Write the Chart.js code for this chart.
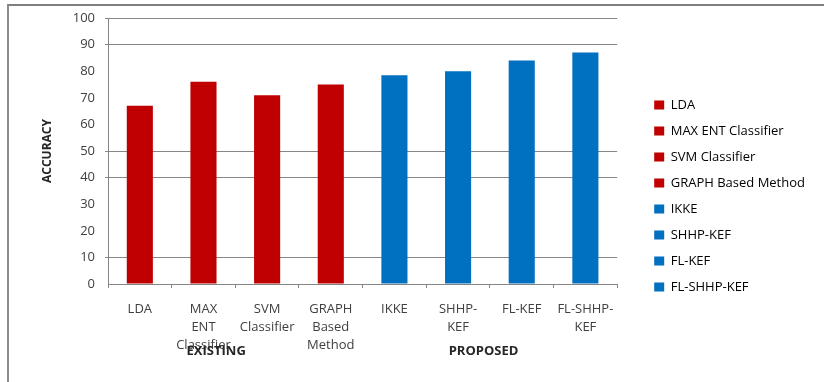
<!DOCTYPE html>
<html>
<head>
<meta charset="utf-8">
<script src="https://cdn.jsdelivr.net/npm/chart.js@4.4.1/dist/chart.umd.min.js"></script>
<style>
  html, body { margin: 0; padding: 0; background: #ffffff; }
  #wrap { position: relative; width: 824px; height: 382px; overflow: hidden; }
  #edge {
    position: absolute; left: 7px; top: 4px; width: 900px; height: 500px;
    border-top: 2px solid #7f7f7f; border-left: 2px solid #8c8c8c;
    pointer-events: none;
  }
  canvas { position: absolute; left: 0; top: 0; }
</style>
</head>
<body>
<div id="wrap">
  <canvas id="chart" width="824" height="382"></canvas>
  <div id="edge"></div>
</div>
<script>
// Methods compared, tick labels (wrapped) and accuracy in percent
const methods = ["LDA", "MAX ENT Classifier", "SVM Classifier", "GRAPH Based Method",
                 "IKKE", "SHHP-KEF", "FL-KEF", "FL-SHHP-KEF"];
const tickLabels = [["LDA"], ["MAX", "ENT", "Classifier"], ["SVM", "Classifier"],
                    ["GRAPH", "Based", "Method"], ["IKKE"], ["SHHP-", "KEF"],
                    ["FL-KEF"], ["FL-SHHP-", "KEF"]];
const accuracy = [67, 76, 71, 75, 78.5, 80, 84, 87];
const groups = ["EXISTING", "EXISTING", "EXISTING", "EXISTING",
                "PROPOSED", "PROPOSED", "PROPOSED", "PROPOSED"];
const yTicks = [0, 10, 20, 30, 40, 50, 60, 70, 80, 90, 100];
const gridLevels = [10, 40, 50, 90, 100];

const RED = "#c00000";
const BLUE = "#0070c0";
const barColors = groups.map(g => g === "EXISTING" ? RED : BLUE);
const FONT = "'Open Sans', 'Liberation Sans', sans-serif";
const TEXT = "#404040";
const LINE = "#868686";

// Group captions under the category labels (offset in category units)
const captionShift = { EXISTING: -0.3, PROPOSED: -0.1 };
const groupCaptions = {
  id: "groupCaptions",
  afterDraw(chart) {
    const x = chart.scales.x;
    const ctx = chart.ctx;
    ctx.save();
    ctx.font = "bold 13px " + FONT;
    ctx.fillStyle = "#262626";
    ctx.textAlign = "center";
    ctx.textBaseline = "middle";
    const names = [...new Set(groups)];
    names.forEach(name => {
      const idx = groups.map((g, i) => g === name ? i : -1).filter(i => i >= 0);
      const first = idx[0], last = idx[idx.length - 1];
      const cx = x.getPixelForValue((first + last) / 2 + (captionShift[name] || 0));
      ctx.fillText(name, cx, 351);
    });
    ctx.restore();
  }
};

new Chart(document.getElementById("chart"), {
  type: "bar",
  data: {
    labels: tickLabels,
    datasets: [{
      label: "ACCURACY",
      data: accuracy,
      backgroundColor: barColors,
      borderWidth: 0,
      categoryPercentage: 1.0,
      barPercentage: 0.41
    }]
  },
  options: {
    responsive: false,
    animation: false,
    layout: { padding: { left: 30, top: 18, right: 9, bottom: 8 } },
    plugins: {
      tooltip: { enabled: false },
      legend: {
        position: "right",
        align: "center",
        labels: {
          font: { family: FONT, size: 13 },
          color: TEXT,
          boxWidth: 10,
          boxHeight: 9,
          padding: 13,
          generateLabels: () => methods.map((m, i) => ({
            text: m,
            fillStyle: barColors[i],
            strokeStyle: barColors[i],
            lineWidth: 0,
            hidden: false,
            index: i,
            datasetIndex: 0
          }))
        }
      }
    },
    scales: {
      x: {
        offset: true,
        grid: {
          offset: true,
          drawOnChartArea: false,
          drawTicks: true,
          tickLength: 4,
          color: LINE
        },
        border: { color: LINE, width: 1 },
        ticks: {
          font: { family: FONT, size: 13, lineHeight: 1.35 },
          color: TEXT,
          padding: 13,
          maxRotation: 0,
          autoSkip: false
        },
        afterFit(s) { s.height = 90; }
      },
      y: {
        min: 0,
        max: 100,
        afterBuildTicks(s) { s.ticks = yTicks.map(v => ({ value: v })); },
        grid: {
          color: c => (c.tick && gridLevels.includes(c.tick.value)) ? LINE : "rgba(0,0,0,0)",
          drawTicks: true,
          tickLength: 3,
          lineWidth: 1
        },
        border: { color: LINE, width: 1 },
        ticks: {
          font: { family: FONT, size: 13 },
          color: TEXT,
          padding: 10
        },
        title: {
          display: true,
          text: "ACCURACY",
          font: { family: FONT, size: 12, weight: "bold" },
          color: "#262626",
          padding: { top: 10, bottom: 0 }
        },
        afterFit(s) { s.width = 78; }
      },
      // empty spacer between the plot and the legend
      gap: {
        position: "right",
        display: false,
        afterFit(s) { s.width = 24; }
      }
    }
  },
  plugins: [groupCaptions]
});
</script>
</body>
</html>
